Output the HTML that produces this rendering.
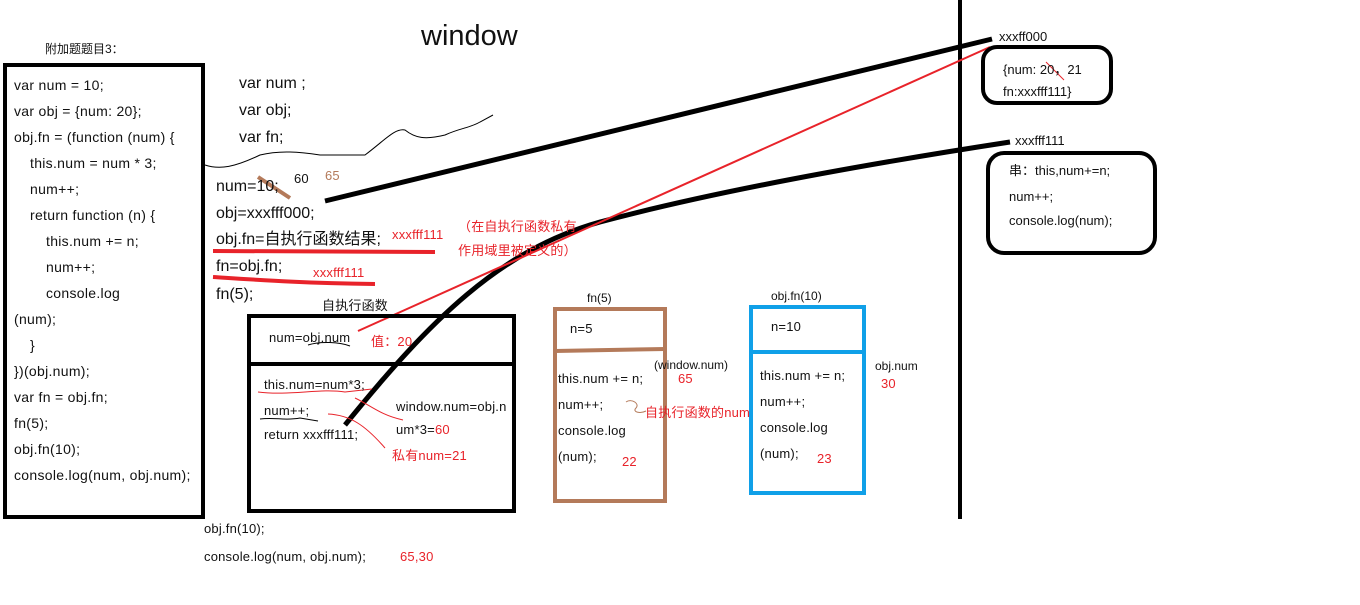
<!DOCTYPE html>
<html><head><meta charset="utf-8"><style>
html,body{margin:0;padding:0;background:#fff;}
body{width:1360px;height:605px;position:relative;overflow:hidden;font-family:"Liberation Sans","Noto Sans CJK SC",sans-serif;color:#111;}
.t{position:absolute;white-space:nowrap;line-height:1;}
.s14{font-size:14px;letter-spacing:0.3px}.s13{font-size:13px;letter-spacing:0.2px}.s16{font-size:16px}.s12{font-size:12px}.s12b{font-size:13px}
.r{color:#e8232a}.b{color:#b47a5a}
</style></head><body>
<svg width="1360" height="605" style="position:absolute;left:0;top:0">
<rect x="5" y="65" width="198" height="452" fill="none" stroke="#000" stroke-width="4"/>
<line x1="960" y1="0" x2="960" y2="519" stroke="#000" stroke-width="4"/>
<path d="M205,165 C220,170 235,167 260,155 C280,150 300,152 320,155 L365,155 C385,140 395,128 405,130 C415,138 425,140 445,135 C460,128 470,128 480,122 L493,115" fill="none" stroke="#000" stroke-width="1"/>
<line x1="325" y1="201" x2="992" y2="39" stroke="#000" stroke-width="5"/>
<path d="M345,425 C430,320 500,250 600,222 C720,190 880,162 1010,142" fill="none" stroke="#000" stroke-width="5"/>
<line x1="358" y1="331" x2="990" y2="47" stroke="#e8232a" stroke-width="2"/>
<path d="M213,251 L435,252" stroke="#e8232a" stroke-width="4" fill="none"/>
<path d="M213,277 C260,280 300,283 375,284" stroke="#e8232a" stroke-width="4" fill="none"/>
<line x1="258" y1="177" x2="290" y2="198" stroke="#b47a5a" stroke-width="4"/>
<rect x="249" y="316" width="265" height="195" fill="none" stroke="#000" stroke-width="4"/>
<line x1="249" y1="364" x2="514" y2="364" stroke="#000" stroke-width="4"/>
<rect x="555" y="309" width="110" height="192" fill="none" stroke="#b47a5a" stroke-width="4"/>
<line x1="555" y1="351" x2="665" y2="349" stroke="#b47a5a" stroke-width="4"/>
<rect x="751" y="307" width="113" height="186" fill="none" stroke="#10a0e8" stroke-width="4"/>
<line x1="751" y1="352" x2="864" y2="352" stroke="#10a0e8" stroke-width="4"/>
<rect x="983" y="47" width="128" height="56" rx="14" fill="none" stroke="#000" stroke-width="4"/>
<rect x="988" y="153" width="167" height="100" rx="16" fill="none" stroke="#000" stroke-width="4"/>
<path d="M258,392 C290,396 320,388 345,392 L372,389" stroke="#e8232a" stroke-width="1" fill="none"/>
<path d="M260,419 C275,417 285,421 300,418 L318,421" stroke="#000" stroke-width="1" fill="none"/>
<path d="M355,398 C370,405 380,415 403,420" stroke="#e8232a" stroke-width="1" fill="none"/>
<path d="M328,414 C350,415 365,425 385,448" stroke="#e8232a" stroke-width="1" fill="none"/>
<path d="M308,345 C320,341 340,342 350,346" stroke="#000" stroke-width="1" fill="none"/>
<line x1="1046" y1="62" x2="1064" y2="80" stroke="#e8232a" stroke-width="1"/>
<path d="M626,402 C632,398 640,404 636,408 C632,412 640,414 646,411" stroke="#b47a5a" stroke-width="1" fill="none"/>
</svg>

<div class="t s12" style="left:45px;top:43px">附加题题目3：</div>
<div class="t" style="left:421px;top:22px;font-size:29px">window</div>

<div class="t s14" style="left:14px;top:78px">var num = 10;</div>
<div class="t s14" style="left:14px;top:104px">var obj = {num: 20};</div>
<div class="t s14" style="left:14px;top:130px">obj.fn = (function (num) {</div>
<div class="t s14" style="left:30px;top:156px">this.num = num * 3;</div>
<div class="t s14" style="left:30px;top:182px">num++;</div>
<div class="t s14" style="left:30px;top:208px">return function (n) {</div>
<div class="t s14" style="left:46px;top:234px">this.num += n;</div>
<div class="t s14" style="left:46px;top:260px">num++;</div>
<div class="t s14" style="left:46px;top:286px">console.log</div>
<div class="t s14" style="left:14px;top:312px">(num);</div>
<div class="t s14" style="left:30px;top:338px">}</div>
<div class="t s14" style="left:14px;top:364px">})(obj.num);</div>
<div class="t s14" style="left:14px;top:390px">var fn = obj.fn;</div>
<div class="t s14" style="left:14px;top:416px">fn(5);</div>
<div class="t s14" style="left:14px;top:442px">obj.fn(10);</div>
<div class="t s14" style="left:14px;top:468px">console.log(num, obj.num);</div>

<div class="t s16" style="left:239px;top:76px">var num ;</div>
<div class="t s16" style="left:239px;top:103px">var obj;</div>
<div class="t s16" style="left:239px;top:130px">var fn;</div>

<div class="t s16" style="left:216px;top:179px">num=10;</div>
<div class="t s13" style="left:294px;top:172px">60</div>
<div class="t s13 b" style="left:325px;top:169px">65</div>
<div class="t s16" style="left:216px;top:206px">obj=xxxfff000;</div>
<div class="t s16" style="left:216px;top:232px">obj.fn=自执行函数结果;</div>
<div class="t s13 r" style="left:392px;top:228px">xxxfff111</div>
<div class="t s13 r" style="left:458px;top:220px">（在自执行函数私有</div>
<div class="t s13 r" style="left:458px;top:244px">作用域里被定义的）</div>
<div class="t s16" style="left:216px;top:259px">fn=obj.fn;</div>
<div class="t s13 r" style="left:313px;top:266px">xxxfff111</div>
<div class="t s16" style="left:216px;top:287px">fn(5);</div>

<div class="t s13" style="left:322px;top:299px">自执行函数</div>
<div class="t s13" style="left:269px;top:331px">num=obj.num</div>
<div class="t s13 r" style="left:371px;top:335px">值：20</div>
<div class="t s13" style="left:264px;top:378px">this.num=num*3;</div>
<div class="t s13" style="left:264px;top:404px">num++;</div>
<div class="t s13" style="left:264px;top:428px">return xxxfff111;</div>
<div class="t s13" style="left:396px;top:400px">window.num=obj.n</div>
<div class="t s13" style="left:396px;top:423px">um*3=<span class="r">60</span></div>
<div class="t s13 r" style="left:392px;top:449px">私有num=21</div>

<div class="t s12" style="left:587px;top:292px">fn(5)</div>
<div class="t s13" style="left:570px;top:322px">n=5</div>
<div class="t s12" style="left:654px;top:359px">(window.num)</div>
<div class="t s13" style="left:558px;top:372px">this.num += n;</div>
<div class="t s13 r" style="left:678px;top:372px">65</div>
<div class="t s13" style="left:558px;top:398px">num++;</div>
<div class="t s13 r" style="left:645px;top:406px">自执行函数的num</div>
<div class="t s13" style="left:558px;top:424px">console.log</div>
<div class="t s13" style="left:558px;top:450px">(num);</div>
<div class="t s13 r" style="left:622px;top:455px">22</div>

<div class="t s12" style="left:771px;top:290px">obj.fn(10)</div>
<div class="t s13" style="left:771px;top:320px">n=10</div>
<div class="t s12" style="left:875px;top:360px">obj.num</div>
<div class="t s13 r" style="left:881px;top:377px">30</div>
<div class="t s13" style="left:760px;top:369px">this.num += n;</div>
<div class="t s13" style="left:760px;top:395px">num++;</div>
<div class="t s13" style="left:760px;top:421px">console.log</div>
<div class="t s13" style="left:760px;top:447px">(num);</div>
<div class="t s13 r" style="left:817px;top:452px">23</div>

<div class="t s12b" style="left:999px;top:30px">xxxff000</div>
<div class="t s12b" style="left:1003px;top:63px">{num: 20，21</div>
<div class="t s12b" style="left:1003px;top:85px">fn:xxxfff111}</div>
<div class="t s12b" style="left:1015px;top:134px">xxxfff111</div>
<div class="t s12b" style="left:1009px;top:164px">串：this,num+=n;</div>
<div class="t s12b" style="left:1009px;top:190px">num++;</div>
<div class="t s12b" style="left:1009px;top:214px">console.log(num);</div>

<div class="t s13" style="left:204px;top:522px">obj.fn(10);</div>
<div class="t s13" style="left:204px;top:550px">console.log(num, obj.num);</div>
<div class="t s13 r" style="left:400px;top:550px">65,30</div>
</body></html>
